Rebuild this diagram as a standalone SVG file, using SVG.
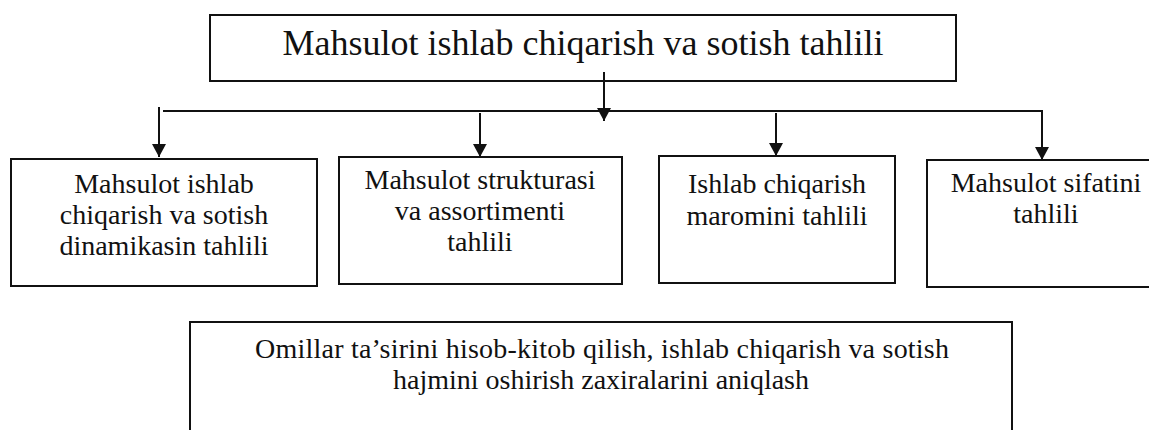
<svg xmlns="http://www.w3.org/2000/svg" width="1149" height="430" viewBox="0 0 1149 430">
  <style>
    .box { fill: #ffffff; stroke: #111111; stroke-width: 2; }
    .txt { fill: #111111; text-anchor: middle; }
    .t28 { font-size: 28px; }
    .t36 { font-size: 36px; }
    .con { stroke: #111111; stroke-width: 2; fill: none; }
    .arr { stroke: #111111; stroke-width: 2; fill: none; marker-end: url(#ah); }
  </style>
  <defs>
    <marker id="ah" markerUnits="userSpaceOnUse" markerWidth="14" markerHeight="14" refX="13" refY="7" orient="auto">
      <path d="M0,0 L13,7 L0,14 Z" fill="#111111"/>
    </marker>
  </defs>
  <rect width="1149" height="430" fill="#ffffff"/>

  <g font-family="'Liberation Serif', 'Times New Roman', serif">
  <g id="title">
    <rect class="box" x="210" y="15" width="746" height="66"/>
    <text class="txt t36" x="583" y="55">Mahsulot ishlab chiqarish va sotish tahlili</text>
  </g>

  <g id="connectors">
    <line class="arr" x1="604" y1="72" x2="604" y2="121"/>
    <polyline class="con" points="163,111 1042,111"/>
    <line class="arr" x1="159" y1="107" x2="159" y2="157"/>
    <line class="arr" x1="480" y1="113" x2="480" y2="157"/>
    <line class="arr" x1="776" y1="113" x2="776" y2="156"/>
    <line class="arr" x1="1042" y1="110" x2="1042" y2="160"/>
  </g>

  <g id="node1">
    <rect class="box" x="11" y="159" width="306" height="127"/>
    <text class="txt t28" x="164" y="193">Mahsulot ishlab</text>
    <text class="txt t28" x="164" y="224">chiqarish va sotish</text>
    <text class="txt t28" x="164" y="255">dinamikasin tahlili</text>
  </g>

  <g id="node2">
    <rect class="box" x="339" y="157" width="283" height="127"/>
    <text class="txt t28" x="480" y="189">Mahsulot strukturasi</text>
    <text class="txt t28" x="480" y="220">va assortimenti</text>
    <text class="txt t28" x="480" y="251">tahlili</text>
  </g>

  <g id="node3">
    <rect class="box" x="659" y="156" width="236" height="127"/>
    <text class="txt t28" x="777" y="193">Ishlab chiqarish</text>
    <text class="txt t28" x="777" y="225">maromini tahlili</text>
  </g>

  <g id="node4">
    <rect class="box" x="927" y="160" width="240" height="127"/>
    <text class="txt t28" x="1046" y="192">Mahsulot sifatini</text>
    <text class="txt t28" x="1046" y="223">tahlili</text>
  </g>

  <g id="node5">
    <rect class="box" x="190" y="322" width="822" height="120"/>
    <text class="txt t28" x="602" y="358" textLength="694" lengthAdjust="spacing">Omillar ta’sirini hisob-kitob qilish, ishlab chiqarish va sotish</text>
    <text class="txt t28" x="601" y="389">hajmini oshirish zaxiralarini aniqlash</text>
  </g>
  </g>
</svg>
